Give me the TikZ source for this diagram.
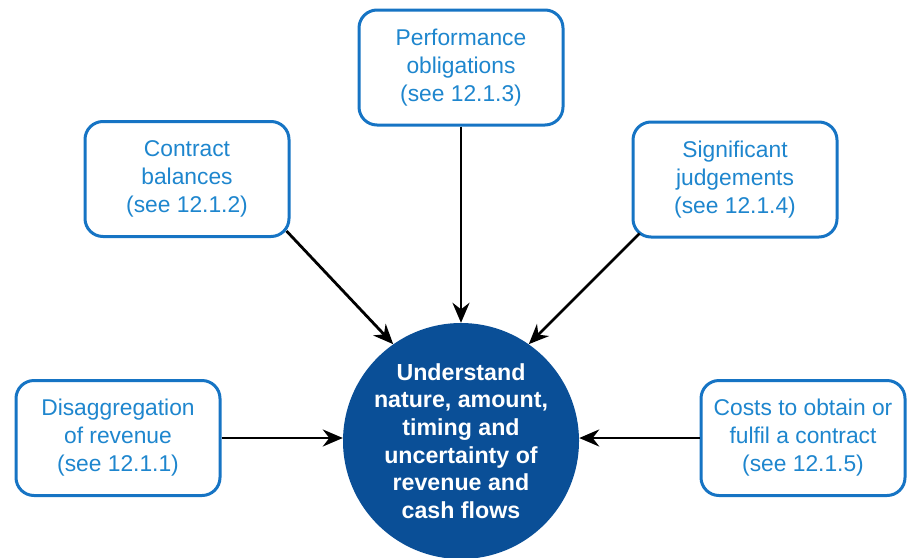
\documentclass[tikz,border=0pt]{standalone}
\usepackage{fontspec}
\setmainfont{Liberation Sans}
\usetikzlibrary{arrows.meta,calc}
\definecolor{boxblue}{RGB}{22,116,196}
\definecolor{txtblue}{RGB}{30,134,206}
\definecolor{circblue}{RGB}{10,79,151}
\tikzset{
  infobox/.style={draw=boxblue, line width=3pt, rounded corners=18pt, fill=white,
    minimum width=204pt, minimum height=115pt, align=center, text=txtblue,
    font=\fontsize{22.8}{28}\selectfont, inner sep=0pt},
  hub/.style={circle, fill=circblue, minimum size=236pt, inner sep=0pt, align=center,
    text=white, font=\fontsize{23.2}{27.7}\selectfont\bfseries},
  arr/.style={-{Stealth[length=20pt,width=17pt]}, line width=2.8pt, black}
}
\begin{document}
\begin{tikzpicture}[x=1pt,y=-1pt]
\useasboundingbox (0,0) rectangle (917,557);
\node[hub] (c) at (461,441) {Understand\\nature, amount,\\timing and\\uncertainty of\\revenue and\\cash flows};
\node[infobox] (po) at (461,67.5) {Performance\\obligations\\(see 12.1.3)};
\node[infobox] (cb) at (187,179) {Contract\\balances\\(see 12.1.2)};
\node[infobox] (sj) at (735,179.5) {Significant\\judgements\\(see 12.1.4)};
\node[infobox] (dr) at (118,438) {Disaggregation\\of revenue\\(see 12.1.1)};
\node[infobox] (co) at (803,438) {Costs to obtain or\\fulfil a contract\\(see 12.1.5)};
\draw[arr] (po.south) -- (c.north);
\draw[arr] ($(cb.south east)+(-4,-7)$) -- (c.125);
\draw[arr] ($(sj.south west)+(8,-5)$) -- (c.55);
\draw[arr] (dr.east) -- (dr.east -| c.west);
\draw[arr] (co.west) -- (co.west -| c.east);
\end{tikzpicture}
\end{document}
